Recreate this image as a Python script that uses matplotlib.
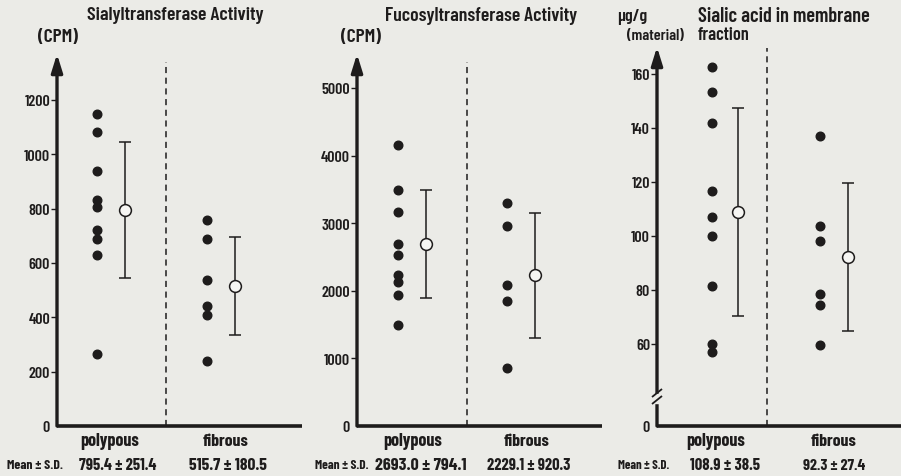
import numpy as np
import matplotlib
matplotlib.use("Agg")
import matplotlib.pyplot as plt
from matplotlib.lines import Line2D
from matplotlib.patches import Rectangle

# ---------------- data ----------------
groups = ["polypous", "fibrous"]

sialyl_polypous = [1147, 1081, 940, 832, 805, 721, 688, 629, 265]
sialyl_fibrous = [759, 688, 537, 443, 409, 238]
sialyl_mean = [795.4, 515.7]
sialyl_sd = [251.4, 180.5]
sialyl_ticks = [0, 200, 400, 600, 800, 1000, 1200]

fucosyl_polypous = [4161, 3495, 3160, 2692, 2534, 2233, 2134, 1942, 1498]
fucosyl_fibrous = [3293, 2963, 2085, 1849, 853]
fucosyl_mean = [2693.0, 2229.1]
fucosyl_sd = [794.1, 920.3]
fucosyl_ticks = [0, 1000, 2000, 3000, 4000, 5000]

sialic_polypous = [162.5, 153.4, 141.9, 116.8, 106.9, 99.9, 81.4, 60.0, 56.9]
sialic_fibrous = [137.2, 103.6, 98.3, 78.4, 74.4, 59.7]
sialic_mean = [108.9, 92.3]
sialic_sd = [38.5, 27.4]
sialic_ticks = [60, 80, 100, 120, 140, 160]
sialic_zero_label = "0"

titles = ["Sialyltransferase Activity", "Fucosyltransferase Activity",
          "Sialic acid in membrane"]
title3_line2 = "fraction"
units = ["(CPM)", "(CPM)", "(material)"]
unit3_top = "\u03bcg/g"
mean_label = "Mean \u00b1 S.D."

# ---------------- style / layout ----------------
BG = "#ebebe7"
INK = "#1e1c1c"
W, H = 901, 477
Y0 = 427  # pixel row of the x axis
FAM = ["Barlow Condensed", "DejaVu Sans"]
WT = 600

plt.rcParams["font.family"] = FAM

fig = plt.figure(figsize=(9.01, 4.77), dpi=100)
fig.patch.set_facecolor(BG)
renderer = fig.canvas.get_renderer()


def fx(px):
    return px / W


def fy(py):
    return 1 - py / H


def fit_text(x, y, s, width, ha="center", weight=WT, **kw):
    t = fig.text(fx(x), fy(y), s, ha=ha, va="center", fontsize=10,
                 fontweight=weight, color=INK, **kw)
    bb = t.get_window_extent(renderer=renderer)
    t.set_fontsize(10 * width / bb.width)
    return t


def fig_line(x1, y1, x2, y2, lw=1.2, color=INK, z=6):
    fig.add_artist(Line2D([fx(x1), fx(x2)], [fy(y1), fy(y2)],
                          transform=fig.transFigure, lw=lw, color=color,
                          solid_capstyle="butt", zorder=z))


panels = [
    dict(axl=57, axr=302, top=55, ylo=0, yhi=1200 / 326 * (Y0 - 55),
         pts=[sialyl_polypous, sialyl_fibrous], mean=sialyl_mean, sd=sialyl_sd,
         ticks=sialyl_ticks, labels=[str(t) for t in sialyl_ticks],
         dot_x=[97, 207], mean_x=[125, 235], cat_x=[110, 226], div=166, div_top=63),
    dict(axl=357, axr=602, top=55, ylo=0, yhi=5000 / 338 * (Y0 - 55),
         pts=[fucosyl_polypous, fucosyl_fibrous], mean=fucosyl_mean, sd=fucosyl_sd,
         ticks=fucosyl_ticks, labels=[str(t) for t in fucosyl_ticks],
         dot_x=[398, 507], mean_x=[426, 535], cat_x=[413, 527], div=467, div_top=63),
    dict(axl=657, axr=901, top=48, ylo=60 - (Y0 - 345) / 2.7,
         yhi=60 - (Y0 - 345) / 2.7 + (Y0 - 48) / 2.7,
         pts=[sialic_polypous, sialic_fibrous], mean=sialic_mean, sd=sialic_sd,
         ticks=sialic_ticks, labels=[str(t) for t in sialic_ticks],
         dot_x=[712, 820], mean_x=[738, 848], cat_x=[716, 834], div=767, div_top=49),
]

for i, p in enumerate(panels):
    ax = fig.add_axes([fx(p["axl"]), fy(Y0), (p["axr"] - p["axl"]) / W, (Y0 - p["top"]) / H])
    ax.set_xlim(p["axl"], p["axr"])
    ax.set_ylim(p["ylo"], p["yhi"])
    ax.patch.set_alpha(0)
    for s in ax.spines.values():
        s.set_visible(False)
    ax.set_xticks([])
    ticks = list(p["ticks"])
    labels = list(p["labels"])
    if i == 2:
        ticks = [p["ylo"]] + ticks
        labels = [sialic_zero_label] + labels
    ax.set_yticks(ticks)
    ax.set_yticklabels(labels)
    ax.tick_params(axis="y", direction="out", length=4, width=1.0, pad=1,
                   labelsize=11.5, colors=INK)
    for lab in ax.get_yticklabels():
        lab.set_fontweight(WT)
    ax.yaxis.get_major_ticks()[0].tick1line.set_visible(False)

    # y axis with arrow
    ax.annotate("", xy=(0, 1), xytext=(0, 0), xycoords="axes fraction",
                arrowprops=dict(arrowstyle="-|>,head_length=0.9,head_width=0.28",
                                lw=2.4, color=INK, shrinkA=0, shrinkB=0,
                                mutation_scale=12))
    # x axis
    ax.plot([0, 1], [0, 0], transform=ax.transAxes, lw=2.6, color=INK,
            clip_on=False, solid_capstyle="butt")
    # dashed divider
    dtop = (Y0 - p["div_top"]) / (Y0 - p["top"])
    ax.plot([p["div"], p["div"]], [0, dtop], transform=ax.get_xaxis_transform(),
            lw=1.1, color=INK, ls=(0, (4, 3)), clip_on=False)

    for g in range(2):
        vals = p["pts"][g]
        ax.plot(np.full(len(vals), p["dot_x"][g]), vals, "o", ms=6.2, color=INK,
                mec=INK, clip_on=False, zorder=3)
        ax.errorbar(p["mean_x"][g], p["mean"][g], yerr=p["sd"][g], fmt="o",
                    ms=8.5, mfc="#f6f6f3", mec=INK, mew=1.1, ecolor=INK,
                    elinewidth=1.1, capsize=4.2, capthick=1.1, zorder=4,
                    clip_on=False)
        fit_text(p["cat_x"][g], 442, groups[g], 59 if g == 0 else 46, weight=700)

# axis break on panel 3
fig.add_artist(Rectangle((fx(650), fy(404)), 14 / W, 9 / H, transform=fig.transFigure,
                         color=BG, zorder=5))
fig_line(652, 398, 662, 390, lw=1.3)
fig_line(652, 405, 662, 397, lw=1.3)

# titles and units
fit_text(175, 15, titles[0], 177)
fit_text(481, 16, titles[1], 192)
fit_text(698, 16, titles[2], 172, ha="left")
fit_text(698, 36, title3_line2, 52, ha="left")
fit_text(58, 37, units[0], 40)
fit_text(361, 37, units[1], 40)
fit_text(655, 36, units[2], 57)
fit_text(617, 17, unit3_top, 30, ha="left")

# mean +- sd row
MY = 466
fit_text(7, MY, mean_label, 56, ha="left", weight=700)
fit_text(315, MY, mean_label, 54, ha="left", weight=700)
fit_text(618, MY, mean_label, 52, ha="left", weight=700)
row_text = [
    (118, 78, sialyl_mean[0], sialyl_sd[0]), (228, 78, sialyl_mean[1], sialyl_sd[1]),
    (421, 92, fucosyl_mean[0], fucosyl_sd[0]), (529, 84, fucosyl_mean[1], fucosyl_sd[1]),
    (725, 70, sialic_mean[0], sialic_sd[0]), (834, 63, sialic_mean[1], sialic_sd[1]),
]
for x, w, m, s in row_text:
    fit_text(x, MY, f"{m:.1f} \u00b1 {s:.1f}", w, weight=700)

fig.savefig("out.png", dpi=100, facecolor=BG)
